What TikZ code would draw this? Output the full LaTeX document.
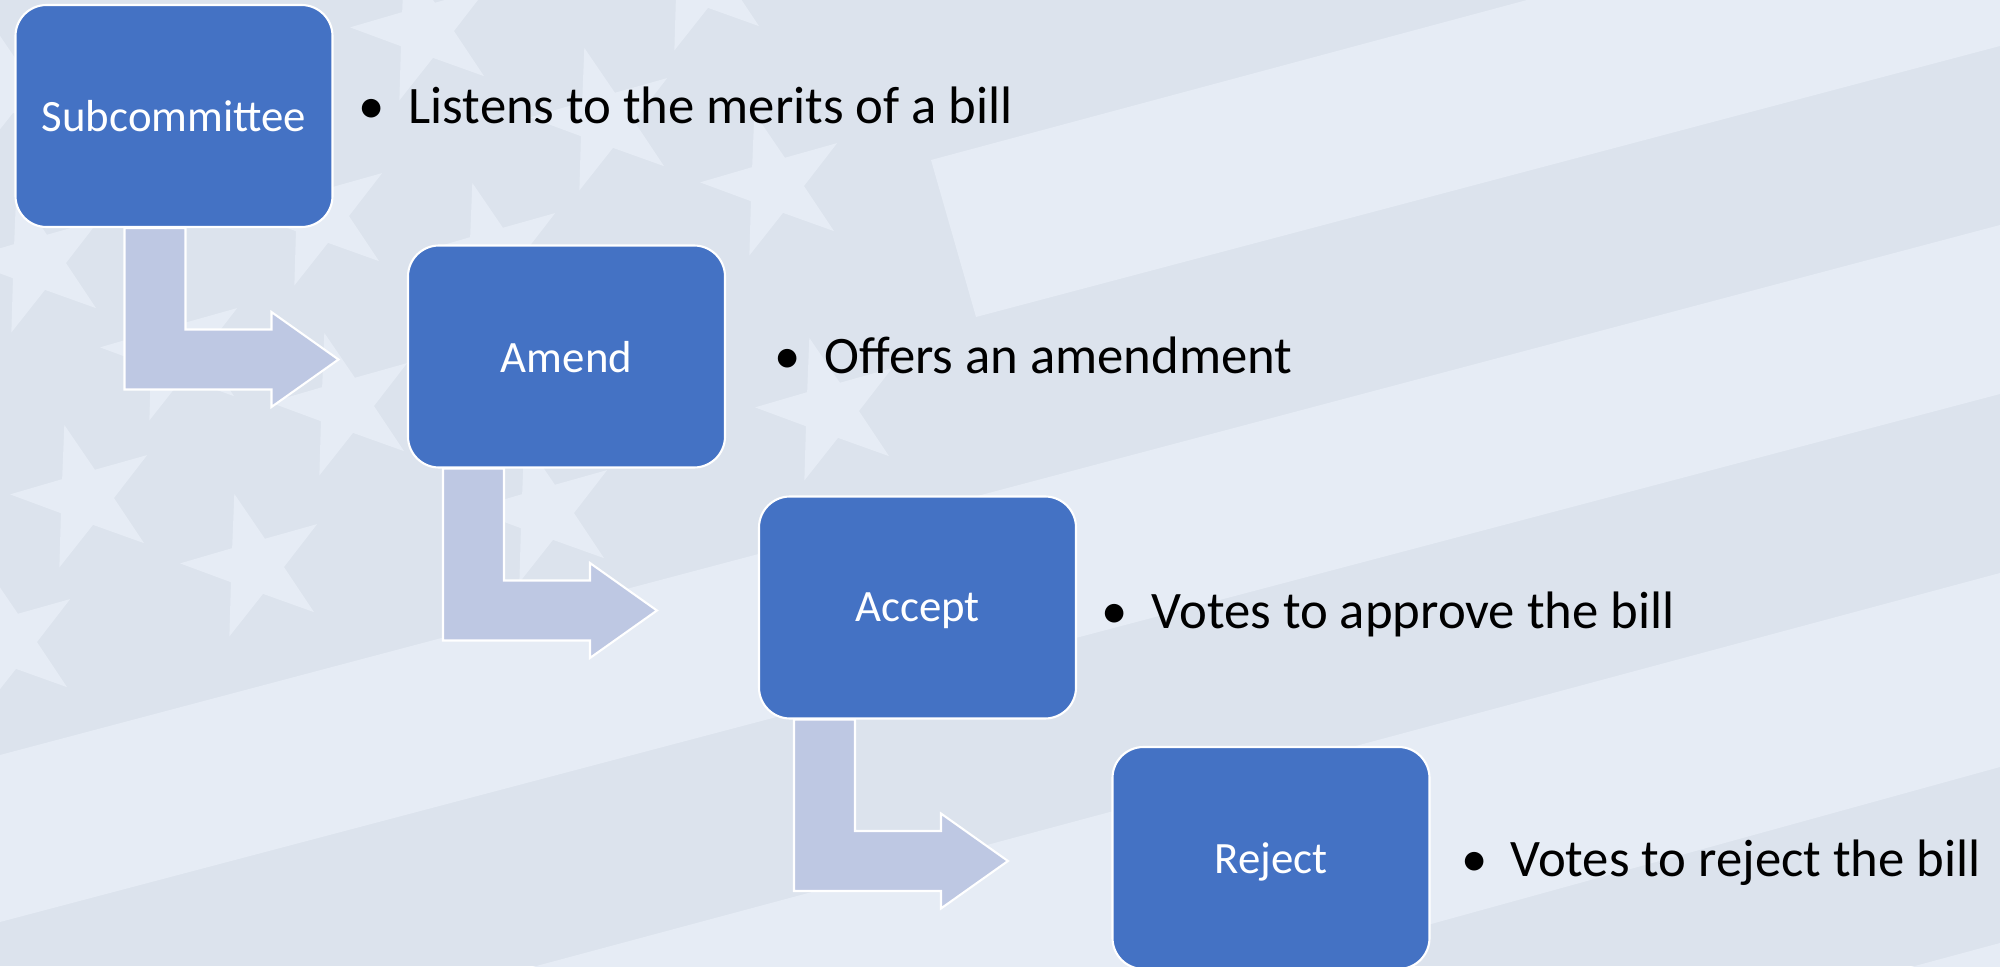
\documentclass[tikz,border=0pt]{standalone}
\usepackage{fontspec}
\setmainfont{Carlito}
\usetikzlibrary{calc}

\definecolor{boxblue}{HTML}{4472C4}
\definecolor{arrowfill}{HTML}{BEC8E3}
\definecolor{flagdark}{HTML}{DCE3ED}
\definecolor{flaglight}{HTML}{E6ECF5}

\begin{document}
\begin{tikzpicture}[
	stepbox/.style={draw=white, line width=0.6pt, fill=boxblue, rounded corners=0.31cm,
		minimum width=3.17cm, minimum height=2.22cm, inner sep=0pt, text=white,
		text depth=0pt, font=\fontsize{12.75}{15}\selectfont},
	note/.style={anchor=base west, inner sep=0pt, font=\fontsize{15}{18}\selectfont},
	bendarrow/.style={draw=white, line width=0.6pt, fill=arrowfill}
	]

	\useasboundingbox (0,0) rectangle (20,9.66);
	\fill[flagdark] (0,0) rectangle (20,9.66);

	\begin{scope}
		\clip (0,0) rectangle (20,9.66);
		% stripes
		\fill[flaglight] (9.31,8.06) -- (20,10.93) -- (20,9.20) -- (9.76,6.49) -- cycle;
		\fill[flaglight] (0,2.11) -- (20,7.41) -- (20,5.72) -- (0,0.44) -- cycle;
		\fill[flaglight] (0,-1.44) -- (20,3.93) -- (20,1.99) -- (0,-3.53) -- cycle;
		\fill[flaglight] (0,-5.17) -- (20,0.23) -- (20,-2) -- (0,-8) -- cycle;
		% stars
		\foreach \sx/\sy in {4.25/9.36, 6.05/8.46, 7.75/7.81, 4.93/7.11, 3.20/7.51,
			0.37/7.04, 8.30/5.56, 3.45/5.61, 0.85/4.69, 2.55/4.00, 5.45/4.54,
			0.08/3.25, 0.05/8.81, 7.00/9.86, 1.75/6.16}
			\fill[flaglight, shift={(\sx,\sy)}, rotate=16] (90:0.75)
				\foreach \k in {1,...,5} {-- (54+72*\k:0.29) -- (90+72*\k:0.75)} -- cycle;
	\end{scope}

	\node[stepbox] (b1) at (1.74,8.50) {Subcommittee};
	\node[stepbox] (b2) at (5.665,6.095) {Amend};
	\node[stepbox] (b3) at (9.175,3.585) {Accept};
	\node[stepbox] (b4) at (12.71,1.08) {Reject};

	\draw[bendarrow] let \p1=($(b1.south west)+(1.10,0)$), \p2=($(b2.west)+(0,-0.03)$) in
		(\x1,\y1) -- (\x1+0.61cm,\y1) -- (\x1+0.61cm,\y2+0.30cm) -- (\x1+1.47cm,\y2+0.30cm)
		-- (\x1+1.47cm,\y2+0.475cm) -- (\x1+2.14cm,\y2) -- (\x1+1.47cm,\y2-0.475cm)
		-- (\x1+1.47cm,\y2-0.30cm) -- (\x1,\y2-0.30cm) -- cycle;
	\draw[bendarrow] let \p1=($(b2.south west)+(0.36,0)$), \p2=($(b3.west)+(0,-0.03)$) in
		(\x1,\y1) -- (\x1+0.61cm,\y1) -- (\x1+0.61cm,\y2+0.30cm) -- (\x1+1.47cm,\y2+0.30cm)
		-- (\x1+1.47cm,\y2+0.475cm) -- (\x1+2.14cm,\y2) -- (\x1+1.47cm,\y2-0.475cm)
		-- (\x1+1.47cm,\y2-0.30cm) -- (\x1,\y2-0.30cm) -- cycle;
	\draw[bendarrow] let \p1=($(b3.south west)+(0.36,0)$), \p2=($(b4.west)+(0,-0.03)$) in
		(\x1,\y1) -- (\x1+0.61cm,\y1) -- (\x1+0.61cm,\y2+0.30cm) -- (\x1+1.47cm,\y2+0.30cm)
		-- (\x1+1.47cm,\y2+0.475cm) -- (\x1+2.14cm,\y2) -- (\x1+1.47cm,\y2-0.475cm)
		-- (\x1+1.47cm,\y2-0.30cm) -- (\x1,\y2-0.30cm) -- cycle;

	\node[note] (t1) at (4.08,8.43) {\llap{\makebox[0.74cm]{\textbullet}}Listens to the merits of a bill};
	\node[note] (t2) at (8.24,5.93) {\llap{\makebox[0.74cm]{\textbullet}}Offers an amendment};
	\node[note] (t3) at (11.51,3.38) {\llap{\makebox[0.74cm]{\textbullet}}Votes to approve the bill};
	\node[note] (t4) at (15.096,0.90) {\llap{\makebox[0.72cm]{\textbullet}}Votes to reject the bill};

\end{tikzpicture}
\end{document}
